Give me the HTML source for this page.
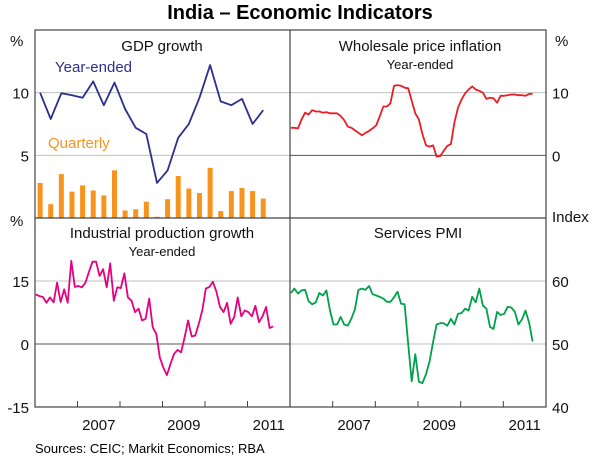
<!DOCTYPE html>
<html><head><meta charset="utf-8"><style>
body{margin:0;background:#fff;}
svg{display:block;font-family:"Liberation Sans",Arial,sans-serif;}
</style></head><body>
<svg id="c" width="600" height="461" viewBox="0 0 600 461">
<text x="300" y="19" text-anchor="middle" font-size="20" font-weight="bold">India – Economic Indicators</text>
<g id="grid"></g>
<g id="marks"></g>
<g id="frame"></g>
<g id="labels"></g>
<text x="35" y="453" font-size="13">Sources: CEIC; Markit Economics; RBA</text>
</svg>
<script>
// data
const gdpYearEnded=[10,7.9,9.95,9.8,9.6,10.9,9.0,10.8,8.7,7.2,6.7,2.8,3.8,6.4,7.5,9.6,12.2,9.3,9.0,9.5,7.5,8.6];
const gdpQuarterly=[2.8,1.1,3.5,2.1,2.6,2.2,1.8,3.8,0.6,0.7,1.3,0.1,1.5,3.35,2.35,2.0,4.0,0.55,2.15,2.4,2.15,1.55];
const ipGrowth=[11.8,11.4,11.2,9.8,11.1,9.9,14.6,10,13,9.8,19.8,13.6,13.8,13.5,14.6,17.2,19.6,19.6,16.2,17.8,13.5,19.2,10.3,13.5,13.3,16.8,11.1,10.3,7.6,8.4,5.6,6,10.8,4,2.4,-3.2,-5.6,-7.4,-4.8,-2.4,-1.4,-2,1.6,5.6,1.8,2,4.8,8,13.2,13.6,14.8,12.4,8.8,7.6,9.8,4.8,6.4,11.1,6.6,8,7.6,6.6,9.1,5.2,6.6,8.8,3.8,4.2];
const wpi=[4.4,4.4,4.3,5.7,6.8,6.5,7.2,7.0,7.0,6.8,6.9,6.7,6.7,6.7,6.3,5.6,4.6,4.4,4.0,3.6,3.2,3.6,3.9,4.3,4.8,6.2,7.8,7.8,8.3,11.1,11.2,11.1,10.8,10.7,8.7,6.7,5.7,3.4,1.6,1.4,1.6,-0.2,-0.1,0.7,1.5,1.8,5.2,7.6,8.9,9.9,10.5,11,10.5,10.3,10,9,9.2,9.1,8.4,9.5,9.5,9.6,9.7,9.7,9.6,9.6,9.5,9.8,9.8];
const pmi=[58.1,58.8,58.0,58.5,58.6,56.8,56.3,56.6,58.1,57.7,58.5,55.3,53.1,53.1,54.3,53.1,52.9,54,55.5,58.6,58.8,58.6,59.2,57.9,57.7,57.5,57.2,56.7,56.7,57.4,58.3,56.4,56.3,50,44.1,48.4,44,43.8,45.2,47.2,50.3,53.1,53.3,53.3,52.9,54,53.1,54.8,54.9,55.6,55.3,57.5,56.6,58.8,56.1,55.6,52.7,52.4,55.1,54.6,54.8,55.9,55.8,55.1,53.1,53.9,55.3,53.4,50.4];
const yearLabels=["2007","2009","2011"];
const leftTicksTop=[10,5];
const rightTicksTop=[10,0];
const leftTicksBot=[15,0,-15];
const rightTicksBot=[60,50,40];

const NS="http://www.w3.org/2000/svg";
const L=35,M=290,R=546,T=30,MID=218,B=407;
const X0=2006,X1=2012;
function mk(g,tag,at){const e=document.createElementNS(NS,tag);for(const k in at)e.setAttribute(k,at[k]);document.getElementById(g).appendChild(e);return e;}
function xs(x0,x1){return t=>x0+(t-X0)/(X1-X0)*(x1-x0);}
function ys(y0,y1,v0,v1){return v=>y1-(v-v0)/(v1-v0)*(y1-y0);}
const xL=xs(L,M),xR=xs(M,R);
const yTL=ys(T,MID,0,15),yTR=ys(T,MID,-10,20),yBL=ys(MID,B,-15,30),yBR=ys(MID,B,40,70);

function hline(y,x0,x1,col){const e=mk('grid','line',{x1:x0,x2:x1,y1:y,y2:y,stroke:col,'stroke-width':1});return e;}
[10,5].forEach(v=>{const e=hline(yTL(v),L,M,'#c0c0c0');});
[10].forEach(v=>{const e=hline(yTR(v),M,R,'#c0c0c0');});
{const e=hline(yTR(0),M,R,'#555');}
{const e=hline(yBL(15),L,M,'#c0c0c0');}
{const e=hline(yBL(0),L,M,'#555');}
[60,50].forEach(v=>{const e=hline(yBR(v),M,R,'#c0c0c0');});

const QOFF=0.12;
gdpQuarterly.forEach((v,i)=>{const cx=xL(X0+QOFF+i*0.25);
const e=mk('marks','rect',{x:cx-2.5,y:yTL(v),width:5,height:yTL(0)-yTL(v),fill:'#f7941d'});
});
function line(data,xf,yf,step,off,col,name){const pts=data.map((v,i)=>xf(X0+off+i*step).toFixed(1)+','+yf(v).toFixed(1)).join(' ');
const e=mk('marks','polyline',{points:pts,fill:'none',stroke:col,'stroke-width':1.8,'stroke-linejoin':'round'});
}
line(gdpYearEnded,xL,yTL,0.25,QOFF,'#2b2f8e','gdp-year-ended-line');
line(ipGrowth,xL,yBL,1/12,0.02,'#e6007e','industrial-production-line');
line(wpi,xR,yTR,1/12,0.02,'#ed1c24','wholesale-inflation-line');
line(pmi,xR,yBR,1/12,0.02,'#00a14b','services-pmi-line');

{const e=mk('frame','rect',{x:L,y:T,width:R-L,height:B-T,fill:'none',stroke:'#444','stroke-width':1.2});}
{const e=mk('frame','line',{x1:M,x2:M,y1:T,y2:B,stroke:'#444','stroke-width':1.2});}
{const e=mk('frame','line',{x1:L,x2:R,y1:MID,y2:MID,stroke:'#444','stroke-width':1.2});}
for(let y=2007;y<=2011;y++){[xL(y),xR(y)].forEach(x=>{const e=mk('frame','line',{x1:x,x2:x,y1:B,y2:B-6,stroke:'#444','stroke-width':1});});}

function txt(x,y,s,anchor,size,col,name){const e=mk('labels','text',{x:x,y:y,'text-anchor':anchor,'font-size':size,fill:col||'#111'});e.textContent=s;return e;}
yearLabels.forEach(s=>{const y=+s;txt(xL(y+0.5),430,s,'middle',15,'#111','x-tick-label');txt(xR(y+0.5),430,s,'middle',15,'#111','x-tick-label');});
leftTicksTop.forEach(v=>txt(29,yTL(v)+6,String(v),'end',15,'#111','y-tick-label'));
rightTicksTop.forEach(v=>txt(552,yTR(v)+6,String(v),'start',15,'#111','y-tick-label'));
leftTicksBot.forEach(v=>txt(29,yBL(v)+6,String(v),'end',15,'#111','y-tick-label'));
rightTicksBot.forEach(v=>txt(552,yBR(v)+6,String(v),'start',15,'#111','y-tick-label'));
txt(10,46,'%','start',15,'#111','y-axis-unit');
txt(10,226,'%','start',15,'#111','y-axis-unit');
txt(555,46,'%','start',15,'#111','y-axis-unit');
txt(552,222,'Index','start',15,'#111','y-axis-unit');
txt(162,51,'GDP growth','middle',15,'#111','panel-title');
txt(55,72,'Year-ended','start',15,'#2b2f8e','series-label');
txt(48,148,'Quarterly','start',15,'#f7941d','series-label');
txt(420,51,'Wholesale price inflation','middle',15,'#111','panel-title');
txt(420,69,'Year-ended','middle',13,'#111','panel-subtitle');
txt(162,238,'Industrial production growth','middle',15,'#111','panel-title');
txt(162,256,'Year-ended','middle',13,'#111','panel-subtitle');
txt(418,238,'Services PMI','middle',15,'#111','panel-title');
</script>
</body></html>
